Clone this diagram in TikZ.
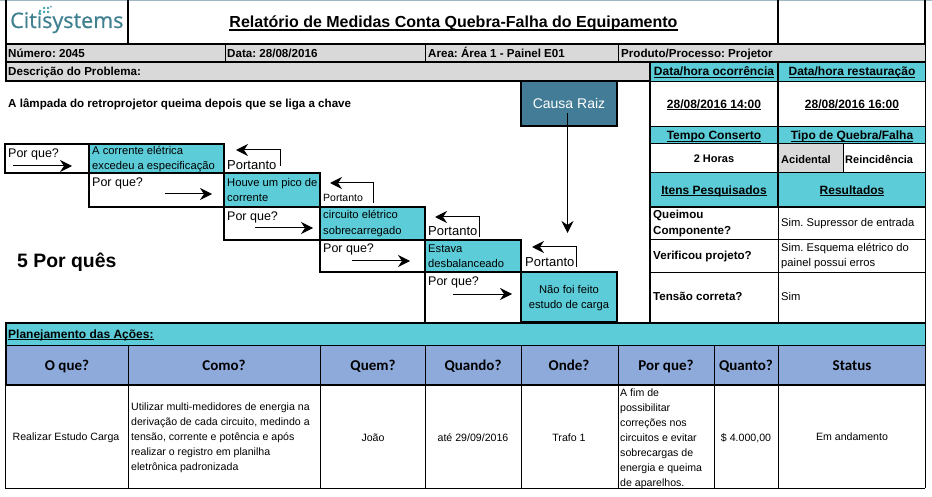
\documentclass[tikz,border=0pt]{standalone}
\usepackage{fontspec}
\setmainfont{Liberation Sans}
\newfontfamily\hdfont{Carlito}
\newfontfamily\logofont[FakeBold=0.7]{Open Sans}
\usetikzlibrary{arrows.meta}
\frenchspacing
\definecolor{teal}{HTML}{5BCCD8}
\definecolor{hdblue}{HTML}{8EAADB}
\definecolor{cellgrey}{HTML}{D9D9D9}
\definecolor{rootblue}{HTML}{427C96}
\definecolor{logoteal}{HTML}{3F8090}
\definecolor{toprule}{HTML}{A0B8C4}
\newcommand{\fs}[1]{\fontsize{#1}{#1}\selectfont}
\newcommand{\fb}[1]{\fontsize{#1}{#1}\selectfont\bfseries}
\newcommand{\uln}[1]{\leavevmode\setbox0=\hbox{#1}\rlap{\rule[-.16em]{\wd0}{.09em}}\box0}
\tikzset{
  x=1pt,y=-1pt,
  lt/.style={inner sep=0pt,anchor=base west},
  ct/.style={inner sep=0pt,anchor=base},
  thin line/.style={line width=1pt,black},
  thick line/.style={line width=2pt,black},
  tealbox/.style={draw=black,line width=2pt,fill=teal,inner sep=0pt,outer sep=0pt,anchor=north west},
  whybox/.style={draw=black,line width=2pt,fill=white,inner sep=0pt,outer sep=0pt,anchor=north west},
  rootbox/.style={draw=black,line width=2pt,fill=rootblue,inner sep=0pt,outer sep=0pt,text=white,font=\fs{14}},
  flow/.style={line width=1pt,black,-{Stealth[length=12pt,width=12pt,inset=4pt]}},
  back/.style={line width=1pt,black,rounded corners=0pt,-{Stealth[length=12pt,width=12pt,inset=4pt]}},
  body/.style={font=\fs{11.2}},
  bold/.style={font=\fb{11.6}},
  boldsm/.style={font=\fb{11}},
  head/.style={font=\fb{12}},
  why/.style={font=\fs{12.5}},
  action/.style={font=\fs{10.6}},
  colhead/.style={font=\hdfont\fb{15}},
}
\begin{document}
\begin{tikzpicture}
\useasboundingbox (0,0) rectangle (932,497);
\fill[white] (0,0) rectangle (932,497);
\fill[toprule] (0,0) rectangle (932,1.5);
% fills
\fill[cellgrey] (5,45) rectangle (925,62);
\fill[cellgrey] (5,62) rectangle (650,81);
\fill[teal] (650,62) rectangle (925,81);
\fill[teal] (650,126) rectangle (925,144);
\fill[teal] (650,173) rectangle (925,207);
\fill[cellgrey] (778,144) rectangle (843,173);
\fill[teal] (5,322) rectangle (925,345);
\fill[hdblue] (5,345) rectangle (925,384);
% thin rules
\draw[thin line] (225,45)--(225,62) (425,45)--(425,62) (618,45)--(618,62);
\draw[thin line] (650,81.5)--(925,81.5) (650,126.5)--(925,126.5) (650,144)--(925,144);
\draw[thin line] (650,173)--(925,173) (650,240)--(925,240) (650,272.5)--(925,272.5);
\draw[thin line] (843,144)--(843,173) (778,207)--(778,322);
\draw[thin line] (925,45)--(925,488);
\draw[thin line] (5,345)--(925,345);
\foreach \xx in {128,320,425,521,618,714,778}{\draw[thin line] (\xx+.5,345)--(\xx+.5,488);}
\draw[thin line] (5,384)--(5,488)--(925,488);
% thick rules
\draw[thick line] (5.5,0)--(5.5,82);
\draw[thick line] (128,0)--(128,44) (778,0)--(778,44) (925,0)--(925,44);
\draw[thick line] (5,44.5)--(926,44.5) (5,62)--(926,62) (4.5,81)--(650,81);
\draw[thick line] (650,62)--(650,322) (778,62)--(778,207);
\draw[thick line] (650,207)--(925,207);
\draw[thick line] (4.5,322.5)--(926,322.5) (4.5,384.5)--(925,384.5) (5.5,322)--(5.5,385);
% step boxes
\node[whybox,minimum width=84pt,minimum height=29pt] (w1) at (5,144) {};
\node[tealbox,minimum width=135pt,minimum height=29pt] (a1) at (89,144) {};
\node[whybox,minimum width=135pt,minimum height=34pt] (w2) at (89,173) {};
\node[tealbox,minimum width=96pt,minimum height=34pt] (a2) at (224,173) {};
\node[whybox,minimum width=96pt,minimum height=33pt] (w3) at (224,207) {};
\node[tealbox,minimum width=105pt,minimum height=33pt] (a3) at (320,207) {};
\node[whybox,minimum width=105pt,minimum height=32pt] (w4) at (320,240) {};
\node[tealbox,minimum width=96pt,minimum height=32pt] (a4) at (425,240) {};
\draw[thick line] (425,272)--(521,272) (425,272)--(425,322);
\node[tealbox,minimum width=96pt,minimum height=50pt] (a5) at (521,272) {};
\node[rootbox,minimum width=96pt,minimum height=45pt,anchor=north west] (root) at (521,81) {};
\node[ct,text=white,font=\fs{14}] (roott) at (569,109) {Causa Raiz};
% logo
\node[lt,text=logoteal,font=\logofont\fs{21.5}] (logo) at (10,28) {Citisystems};
\fill[logoteal!50!teal] (39,10) rectangle +(2,2) (43,7) rectangle +(2,2) (47,7) rectangle +(2,2) (43,11) rectangle +(2,2) (39,13) rectangle +(2,2) (47,11) rectangle +(2,2) (50,6) rectangle +(1.5,1.5);
% header text
\node[ct,font=\fb{16}] (title) at (453.5,28) {\uln{Relatório de Medidas Conta Quebra-Falha do Equipamento}};
\node[lt,bold] (num) at (8,58) {Número: 2045};
\node[lt,bold] (dat) at (227,58) {Data: 28/08/2016};
\node[lt,bold] (are) at (428,58) {Area: Área 1 - Painel E01};
\node[lt,bold] (pro) at (621,58) {Produto/Processo: Projetor};
\node[lt,bold] (des) at (8,75.5) {Descrição do Problema:};
\node[lt,bold] (pb) at (8,108) {A lâmpada do retroprojetor queima depois que se liga a chave};
\node[ct,head] (doc) at (714,76) {\uln{Data/hora ocorrência}};
\node[ct,head] (res) at (852,76) {\uln{Data/hora restauração}};
\node[ct,head] (d1) at (714,108.5) {\uln{28/08/2016 14:00}};
\node[ct,head] (d2) at (852,108.5) {\uln{28/08/2016 16:00}};
\node[ct,head] (tc) at (714,140) {\uln{Tempo Conserto}};
\node[ct,head] (tq) at (852,140) {\uln{Tipo de Quebra/Falha}};
\node[ct,boldsm] (h2) at (714,163) {2 Horas};
\node[lt,boldsm] (aci) at (781,164) {Acidental};
\node[lt,boldsm] (rei) at (845,164) {Reincidência};
\node[ct,head] (ip) at (714,194.5) {\uln{Itens Pesquisados}};
\node[ct,head] (rs) at (852,194.5) {\uln{Resultados}};
\node[lt,bold] (q1) at (653,219) {Queimou};
\node[lt,bold] (q2) at (653,235) {Componente?};
\node[lt,bold] (q3) at (653,259) {Verificou projeto?};
\node[lt,bold] (q4) at (653,301) {Tensão correta?};
\node[lt,body] (r1) at (781,227) {Sim. Supressor de entrada};
\node[lt,body] (r2) at (781,252) {Sim. Esquema elétrico do};
\node[lt,body] (r3) at (781,267) {painel possui erros};
\node[lt,body] (r4) at (781,301) {Sim};
% steps text
\node[lt,body] (t1a) at (92,155) {A corrente elétrica};
\node[lt,body] (t1b) at (92,169.5) {excedeu a especificação};
\node[lt,body] (t2a) at (227,187) {Houve um pico de};
\node[lt,body] (t2b) at (227,202) {corrente};
\node[lt,body] (t3a) at (323,219) {circuito elétrico};
\node[lt,body] (t3b) at (323,235) {sobrecarregado};
\node[lt,body] (t4a) at (428,253) {Estava};
\node[lt,body] (t4b) at (428,268) {desbalanceado};
\node[ct,body] (t5a) at (569,293) {Não foi feito};
\node[ct,body] (t5b) at (569,308) {estudo de carga};
\node[lt,why] (p1) at (8,158) {Por que?};
\node[lt,why] (p2) at (92,187) {Por que?};
\node[lt,why] (p3) at (227,221) {Por que?};
\node[lt,why] (p4) at (323,253) {Por que?};
\node[lt,why] (p5) at (428,285) {Por que?};
\node[lt,font=\fs{13}] (c1) at (227,170) {Portanto};
\node[lt,font=\fs{10.5}] (c2) at (323,202) {Portanto};
\node[lt,font=\fs{13}] (c3) at (428,236) {Portanto};
\node[lt,font=\fs{13}] (c4) at (525,267) {Portanto};
\node[lt,font=\fb{19.4}] (five) at (17,268) {5 Por quês};
% flow arrows
\coordinate (fa1) at (13,166); \coordinate (fb1) at (72,166);
\coordinate (fa2) at (165,194); \coordinate (fb2) at (212,194);
\coordinate (fa3) at (255,228); \coordinate (fb3) at (313,228);
\coordinate (fa4) at (352,261); \coordinate (fb4) at (410,261);
\coordinate (fa5) at (453,294); \coordinate (fb5) at (512,294);
\draw[flow] (fa1)--(fb1);
\draw[flow] (fa2)--(fb2);
\draw[flow] (fa3)--(fb3);
\draw[flow] (fa4)--(fb4);
\draw[flow] (fa5)--(fb5);
% back arrows
\coordinate (ba1) at (280.5,166); \coordinate (bm1) at (280.5,150); \coordinate (bb1) at (236,150);
\coordinate (ba2) at (373.5,203); \coordinate (bm2) at (373.5,183); \coordinate (bb2) at (330,183);
\coordinate (ba3) at (479.5,237); \coordinate (bm3) at (479.5,217); \coordinate (bb3) at (435,217);
\coordinate (ba4) at (576.5,267); \coordinate (bm4) at (576.5,247); \coordinate (bb4) at (532,247);
\draw[back] (ba1)--(bm1)--(bb1);
\draw[back] (ba2)--(bm2)--(bb2);
\draw[back] (ba3)--(bm3)--(bb3);
\draw[back] (ba4)--(bm4)--(bb4);
\coordinate (rs1) at (567.5,113); \coordinate (rs2) at (567.5,233);
\draw[flow] (rs1)--(rs2);
% plan
\node[lt,head] (plan) at (8,338) {\uln{Planejamento das Ações:}};
\node[ct,colhead] (h1) at (67,370) {O que?};
\node[ct,colhead] (h3) at (224,370) {Como?};
\node[ct,colhead] (h4) at (373,370) {Quem?};
\node[ct,colhead] (h5) at (473,370) {Quando?};
\node[ct,colhead] (h6) at (569,370) {Onde?};
\node[ct,colhead] (h7) at (666,370) {Por que?};
\node[ct,colhead] (h8) at (746,370) {Quanto?};
\node[ct,colhead] (h9) at (852,370) {Status};
\node[ct,action] (v1) at (66,440) {Realizar Estudo Carga};
\node[lt,action] (v2a) at (131,410) {Utilizar multi-medidores de energia na};
\node[lt,action] (v2b) at (131,425) {derivação de cada circuito, medindo a};
\node[lt,action] (v2c) at (131,440) {tensão, corrente e potência e após};
\node[lt,action] (v2d) at (131,455) {realizar o registro em planilha};
\node[lt,action] (v2e) at (131,470) {eletrônica padronizada};
\node[ct,action] (v3) at (373,441) {João};
\node[ct,action] (v4) at (473,441) {até 29/09/2016};
\node[ct,action] (v5) at (569,441) {Trafo 1};
\node[lt,action] (v6a) at (620,396) {A fim de};
\node[lt,action] (v6b) at (620,411) {possibilitar};
\node[lt,action] (v6c) at (620,426) {correções nos};
\node[lt,action] (v6d) at (620,441) {circuitos e evitar};
\node[lt,action] (v6e) at (620,456) {sobrecargas de};
\node[lt,action] (v6f) at (620,471) {energia e queima};
\node[lt,action] (v6g) at (620,486) {de aparelhos.};
\node[ct,action] (v7) at (746,441) {\$ 4.000,00};
\node[ct,action] (v8) at (852,440) {Em andamento};
\end{tikzpicture}
\end{document}
